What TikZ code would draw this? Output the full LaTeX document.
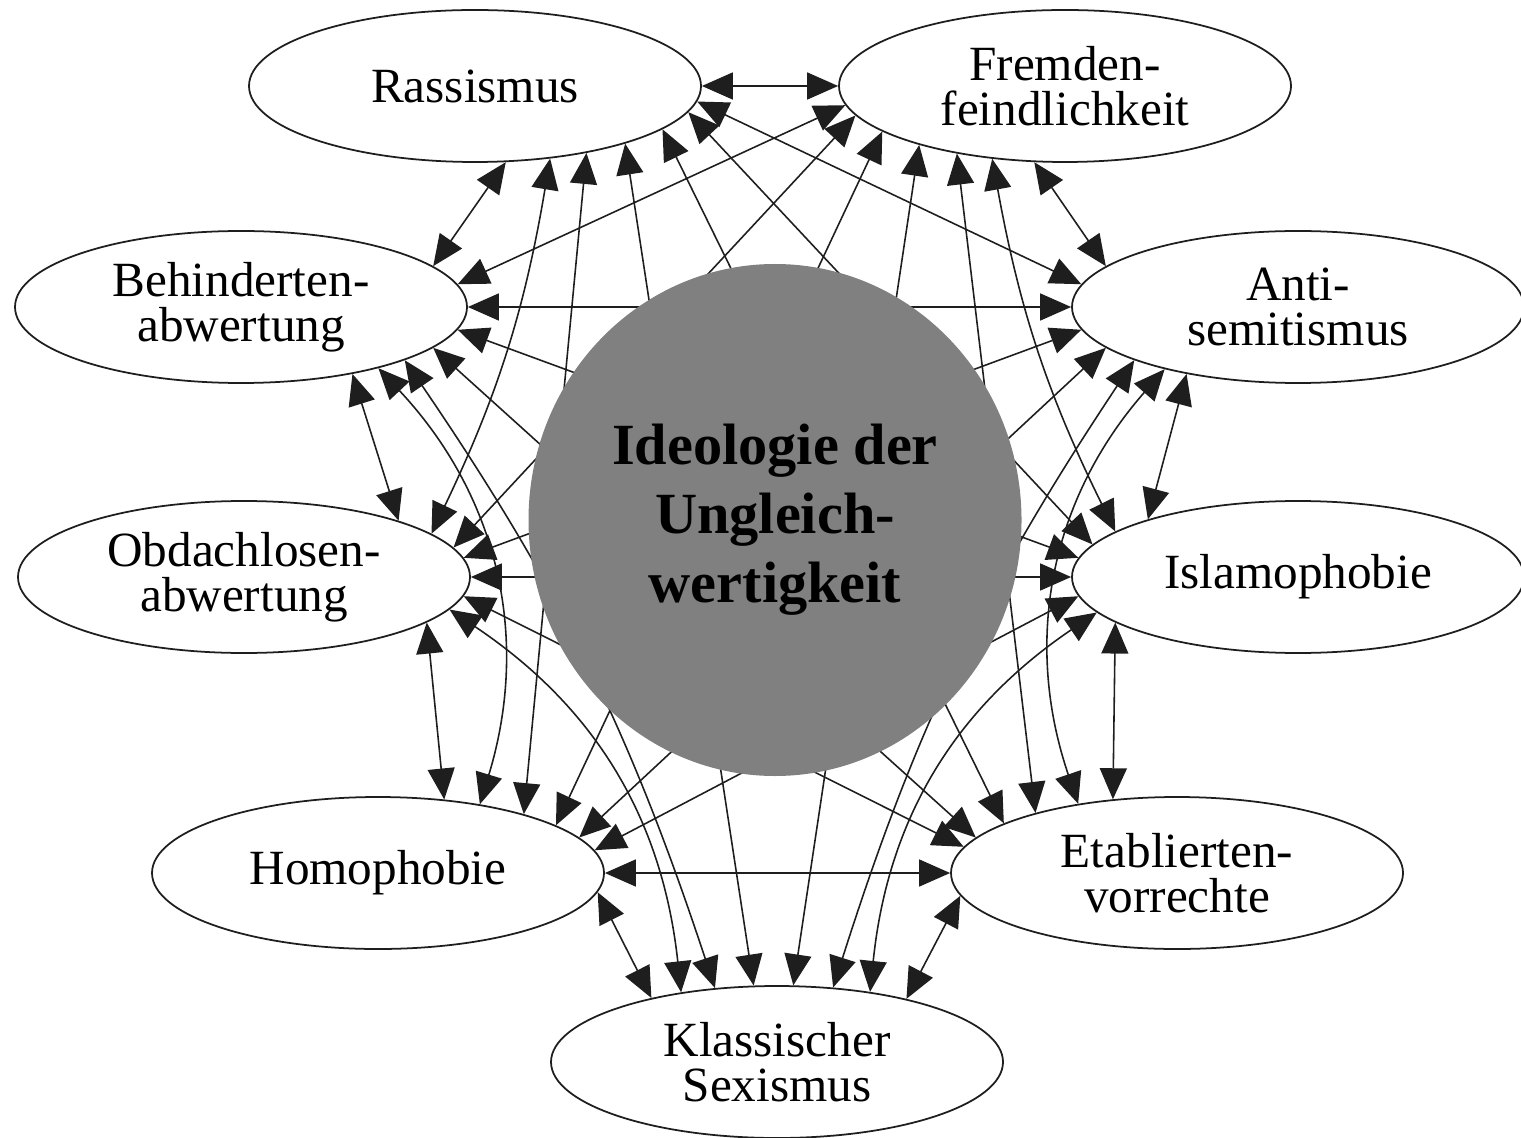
\documentclass[tikz,border=0pt]{standalone}
\usepackage{fontspec}
\setmainfont{Liberation Serif}
\usetikzlibrary{arrows.meta, shapes.geometric, backgrounds}
\definecolor{gmfgray}{HTML}{808080}
\definecolor{gmfline}{HTML}{1E1E1E}

\begin{document}
\begin{tikzpicture}[
      x=0.1mm, y=-0.1mm,
      every node/.style={font=\fontsize{14}{12.8}\selectfont},
      facet/.style={draw=gmfline, ellipse, fill=white, line width=0.5pt,
                  minimum width=45.2mm, minimum height=15.2mm,
                  inner sep=0pt, align=center},
      core/.style={ellipse, fill=gmfgray, inner sep=0pt,
                  minimum width=49.3mm, minimum height=51.2mm, align=center,
                  font=\bfseries\fontsize{16.6}{19.6}\selectfont},
      link/.style={{Triangle[length=3.1mm, width=2.7mm]}-{Triangle[length=3.1mm, width=2.7mm]},
                  line width=0.45pt, gmfline},
    ]
    \useasboundingbox (0,0) rectangle (1521,1137);

    % Nodes
    \node[facet] (ras) at (475,86)   {Rassismus};
    \node[facet] (fre) at (1065,86)  {Fremden-\\feindlichkeit};
    \node[facet] (beh) at (241,307)  {Behinderten-\\abwertung};
    \node[facet] (ant) at (1298,307) {Anti-\\semitismus};
    \node[facet] (obd) at (244,577)  {Obdachlosen-\\abwertung};
    \node[facet] (isl) at (1298,577) {Islamophobie};
    \node[facet] (hom) at (378,873)  {Homophobie};
    \node[facet] (eta) at (1177,873) {Etablierten-\\vorrechte};
    \node[facet] (sex) at (777,1062) {Klassischer\\Sexismus};
    \node[core]  (gmf) at (775,520)  {Ideologie der\\Ungleich-\\wertigkeit};

    \begin{scope}[on background layer]
    % Rassismus
    \draw[link] (ras.0) -- (fre.180);
    \draw[link] (ras.-68) -- (beh.12);
    \draw[link] (ras.-44.6) to[bend left=8] (obd.13.5);
    \draw[link] (ras.-31.2) -- (hom.22.6);
    \draw[link] (ras.-21.5) -- (sex.107.6);
    \draw[link] (ras.-13.4) -- (eta.164.6);
    \draw[link] (ras.-7.3) -- (isl.171.4);
    \draw[link] (ras.-4.4) -- (ant.174);
    % Fremdenfeindlichkeit
    \draw[link] (fre.-175.6) -- (beh.6);
    \draw[link] (fre.-172.7) -- (obd.8.6);
    \draw[link] (fre.-166.6) -- (hom.15.4);
    \draw[link] (fre.-158.5) -- (sex.78);
    \draw[link] (fre.-148.8) -- (eta.157.4);
    \draw[link] (fre.-135.4) to[bend right=8] (isl.166.5);
    \draw[link] (fre.-112) -- (ant.168);
    % Behindertenabwertung
    \draw[link] (beh.0) -- (ant.180);
    \draw[link] (beh.-6) -- (isl.175);
    \draw[link] (beh.-12) -- (eta.170);
    \draw[link] (beh.-18) to[bend left=8] (sex.130.3);
    \draw[link] (beh.-24.5) to[bend left=30] (hom.34.3);
    \draw[link] (beh.-31) -- (obd.20.5);
    % Antisemitismus
    \draw[link] (ant.-174) -- (obd.5);
    \draw[link] (ant.-168) -- (hom.10);
    \draw[link] (ant.-162) to[bend right=8] (sex.53.3);
    \draw[link] (ant.-155.5) to[bend right=30] (eta.145.7);
    \draw[link] (ant.-149) -- (isl.159.5);
    % Obdachlosenabwertung
    \draw[link] (obd.0) -- (isl.180);
    \draw[link] (obd.-5) -- (eta.173.9);
    \draw[link] (obd.-9.5) to[bend left=25] (sex.144);
    \draw[link] (obd.-14) -- (hom.48.7);
    % Islamophobie
    \draw[link] (isl.-175) -- (hom.6.1);
    \draw[link] (isl.-170.5) to[bend right=25] (sex.37.4);
    \draw[link] (isl.-166) -- (eta.131.3);
    % Homophobie, Etabliertenvorrechte
    \draw[link] (hom.0) -- (eta.180);
    \draw[link] (hom.-5.8) -- (sex.153.7);
    \draw[link] (eta.-174.2) -- (sex.26.1);
    \end{scope}
  \end{tikzpicture}
\end{document}
